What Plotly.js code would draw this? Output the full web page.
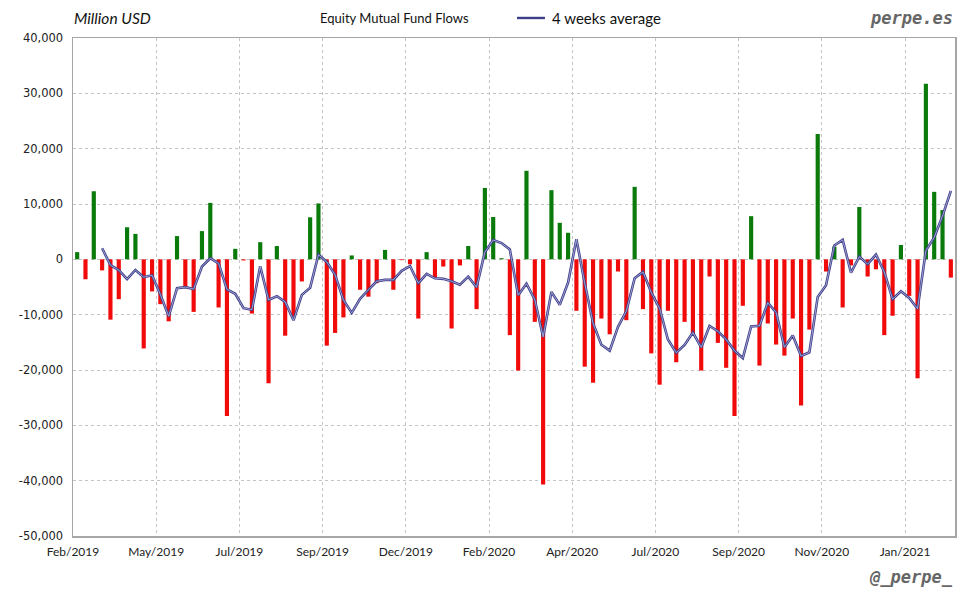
<!DOCTYPE html>
<html>
<head>
<meta charset="utf-8">
<script src="https://cdn.plot.ly/plotly-3.0.1.min.js"></script>
<style>
html,body{margin:0;padding:0;background:#fff;}
#chart{width:980px;height:600px;}
</style>
</head>
<body>
<div id="chart"></div>
<script>
// ---- DATA (Million USD, weekly) ----
const firstWeek = '2019-02-27';

const flows = [
  1300, -3600, 12300, -2000, -10900, -7200, 5800, 4600, -16100, -5800,
  -8100, -11200, 4200, -5000, -9500, 5100, 10200, -8700, -28300, 1900,
  -200, -9800, 3100, -22400, 2400, -13800, -10300, -4000, 7600, 10100,
  -15600, -13300, -10500, 700, -5500, -6750, -4300, 1700, -5500, -150,
  -900, -10700, 1300, -3400, -1300, -12500, -1100, 2400, -9000, 12900,
  7650, 200, -13700, -20100, 16000, -11300, -40700, 12500, 6600, 4800,
  -9300, -19400, -22300, -10700, -13550, -2200, -11000, 13100, -9000, -17000,
  -22650, -9300, -18600, -11300, -13700, -20100, -3100, -15100, -19600, -28300,
  -8400, 7800, -19200, -11600, -15400, -17400, -10700, -26400, -12700, 22650,
  -2200, 2300, -8700, -1100, 9450, -3100, -1800, -13700, -10200, 2600,
  -6600, -21500, 31750, 12200, 8900, -3300
];

const avg4w = [
  null, null, null, 2000, -1050, -1950, -3575, -1925, -3225, -2875,
  -6350, -10300, -5225, -5025, -5375, -1300, 200, -725, -5425, -6225,
  -8825, -9100, -1250, -7325, -6675, -7675, -11025, -6425, -5125, 850,
  -475, -2800, -7325, -9675, -7150, -5513, -3963, -3713, -3713, -2063,
  -1213, -4313, -2613, -3425, -3525, -3975, -4575, -3125, -5050, 1300,
  3488, 2938, 1763, -6488, -4400, -7275, -14025, -5875, -8225, -4200,
  3650, -4325, -11550, -15425, -16488, -12188, -9363, -3413, -2275, -5975,
  -8888, -14488, -16888, -15463, -13225, -15925, -12050, -13000, -14475, -16525,
  -17850, -12125, -12025, -7850, -9600, -15900, -13775, -17475, -16800, -6788,
  -4663, 2513, 3513, -2425, 488, -863, 863, -2288, -7200, -5775,
  -6975, -8925, 1563, 3963, 7838, 12388
];

const xTickLabels = ['Feb/2019','May/2019','Jul/2019','Sep/2019','Dec/2019','Feb/2020',
                     'Apr/2020','Jul/2020','Sep/2020','Nov/2020','Jan/2021'];
const xTickEveryWeeks = 10;

const yTickValues = [40000, 30000, 20000, 10000, 0, -10000, -20000, -30000, -40000, -50000];
const yTickLabels = ['40,000','30,000','20,000','10,000','0','-10,000','-20,000','-30,000','-40,000','-50,000'];

// ---- build ----
const DAY = 86400000;
const t0 = Date.parse(firstWeek + 'T00:00:00Z');
function fmt(ms){ return new Date(ms).toISOString().replace('T',' ').replace('Z','').slice(0,19); }
const weeks = flows.map((_, i) => fmt(t0 + i * 7 * DAY));
const tickVals = xTickLabels.map((_, k) => fmt(t0 + (k * xTickEveryWeeks * 7 - 3.5) * DAY));
const xRange = [fmt(t0 - 3.5 * DAY), fmt(t0 + ((flows.length - 1) * 7 + 3.5) * DAY)];

const barColors = flows.map(v => v >= 0 ? '#0a7a0a' : '#f00a0a');
const lineColor = '#3e3e8a';

const traces = [
  {
    type: 'bar', x: weeks, y: flows, name: 'Equity Mutual Fund Flows',
    marker: { color: barColors, line: { width: 0 } },
    hoverinfo: 'x+y'
  },
  {
    type: 'scatter', mode: 'lines', x: weeks, y: avg4w, name: '4 weeks average',
    line: { color: lineColor, width: 2.6 }, connectgaps: false
  },
  {
    type: 'scatter', mode: 'lines', x: weeks, y: avg4w, name: '4 weeks average (core)',
    line: { color: '#b8b8e2', width: 0.8 }, connectgaps: false, hoverinfo: 'skip'
  }
];

const gridStyle = { showgrid: true, gridcolor: '#c4c4c4', griddash: 'dot', gridwidth: 1 };
const headerY = 1.0402;

const layout = {
  width: 980, height: 600,
  margin: { l: 73, r: 25, t: 38, b: 64 },
  paper_bgcolor: '#ffffff', plot_bgcolor: '#ffffff',
  bargap: 0.5,
  showlegend: false,
  xaxis: Object.assign({
    type: 'date', range: xRange,
    tickmode: 'array', tickvals: tickVals, ticktext: xTickLabels,
    ticks: '', zeroline: false, ticklabelstandoff: 4,
    showline: true, mirror: true, linecolor: '#a6a6a6', linewidth: 1.5,
    tickfont: { family: 'Lato, sans-serif', size: 12, color: '#222' }
  }, gridStyle),
  yaxis: Object.assign({
    range: [-50000, 40000],
    tickmode: 'array', tickvals: yTickValues, ticktext: yTickLabels,
    ticks: '', zeroline: false, ticklabelstandoff: 6,
    showline: true, mirror: true, linecolor: '#a6a6a6', linewidth: 1.5,
    tickfont: { family: 'DejaVu Sans, sans-serif', size: 11.5, color: '#222' }
  }, gridStyle),
  shapes: [
    { type: 'line', xref: 'paper', yref: 'paper', x0: 0.5034, x1: 0.5351, y0: headerY, y1: headerY,
      line: { color: lineColor, width: 2.4 } }
  ],
  annotations: [
    { text: 'Equity Mutual Fund Flows', xref: 'paper', yref: 'paper', x: 0.3645, y: headerY,
      xanchor: 'center', yanchor: 'middle', showarrow: false,
      font: { family: 'Lato, sans-serif', size: 13, color: '#111' } },
    { text: '4 weeks average', xref: 'paper', yref: 'paper', x: 0.5408, y: headerY,
      xanchor: 'left', yanchor: 'middle', showarrow: false,
      font: { family: 'Lato, sans-serif', size: 15, color: '#111' } },
    { text: 'Million USD', xref: 'paper', yref: 'paper', x: -0.001, y: headerY,
      xanchor: 'left', yanchor: 'middle', showarrow: false,
      font: { family: 'Lato, sans-serif', size: 15.5, color: '#111', style: 'italic' } },
    { text: 'perpe.es', xref: 'paper', yref: 'paper', x: 1.0, y: headerY,
      xanchor: 'right', yanchor: 'middle', showarrow: false,
      font: { family: 'DejaVu Sans Mono, monospace', size: 17, color: '#666', weight: 'bold', style: 'italic' } },
    { text: '@_perpe_', xref: 'paper', yref: 'paper', x: 1.0, y: -0.0823,
      xanchor: 'right', yanchor: 'middle', showarrow: false,
      font: { family: 'DejaVu Sans Mono, monospace', size: 17, color: '#666', weight: 'bold', style: 'italic' } }
  ]
};

Plotly.newPlot('chart', traces, layout, { staticPlot: true, displayModeBar: false });
</script>
</body>
</html>
